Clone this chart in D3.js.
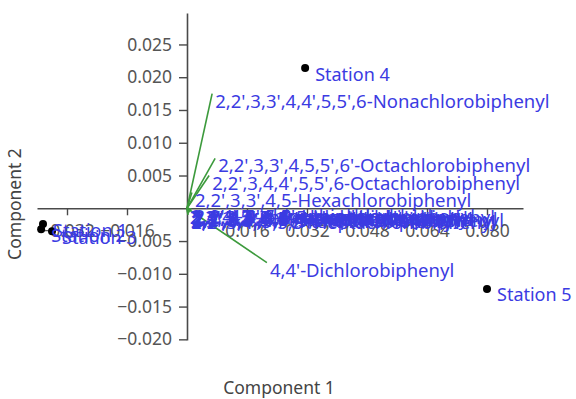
<!DOCTYPE html>
<html>
<head>
<meta charset="utf-8">
<script src="https://cdn.jsdelivr.net/npm/d3@7"></script>
<style>
  html, body { margin: 0; padding: 0; background: #fff; }
  svg { display: block; }
</style>
</head>
<body>
<svg id="chart" width="576" height="399"></svg>
<script>
// PCA biplot: station scores (points) and congener loadings (vectors)
const stationNames = ["Station 1", "Station 3", "Station 2", "Station 4", "Station 5"];
const stationPC1   = [-0.0384, -0.0360, -0.0389, 0.0315, 0.0800];
const stationPC2   = [-0.0024, -0.0035, -0.0032, 0.0214, -0.0123];

const loadingNames = [
  "2,4,4'-Trichlorobiphenyl",
  "2,2',5,5'-Tetrachlorobiphenyl",
  "2,2',4,5,5'-Pentachlorobiphenyl",
  "2,3',4,4',5-Pentachlorobiphenyl",
  "2,2',3,4,4',5'-Hexachlorobiphenyl",
  "2,2',4,4',5,5'-Hexachlorobiphenyl",
  "2,3,3',4,4',5-Hexachlorobiphenyl",
  "2,2',3,4,4',5,5'-Heptachlorobiphenyl",
  "2,2',3,4',5,5',6-Heptachlorobiphenyl",
  "2,2',3,3',4,4',5-Heptachlorobiphenyl",
  "2,2',3,3',4,4',5,5'-Octachlorobiphenyl",
  "2,2',3,3',4,5-Hexachlorobiphenyl",
  "2,2',3,4,4',5,5',6-Octachlorobiphenyl",
  "2,2',3,3',4,5,5',6'-Octachlorobiphenyl",
  "2,2',3,3',4,4',5,5',6-Nonachlorobiphenyl",
  "4,4'-Dichlorobiphenyl"
];
const loadingPC1 = [0.0003, -0.0001, 0.0009, 0.0002, 0.0006, 0.0012, 0.0004, 0.0003, 0.0008, 0.0001, 0.0005, 0.0013, 0.0059, 0.0075, 0.0067, 0.0213];
const loadingPC2 = [-0.0001, -0.0002, -0.0003, -0.0009, -0.0006, -0.0001, -0.0004, -0.0010, -0.0005, -0.0002, -0.0007, 0.0024, 0.0050, 0.0076, 0.0175, -0.0083];

const xTicks = [-0.032, -0.016, 0.016, 0.032, 0.048, 0.064, 0.080];
const yTicks = [-0.020, -0.015, -0.010, -0.005, 0.005, 0.010, 0.015, 0.020, 0.025];

const svg = d3.select("#chart");
const x = d3.scaleLinear().domain([-0.04, 0.0896]).range([37, 523]);
const y = d3.scaleLinear().domain([-0.0201, 0.0298]).range([340, 13]);

const axisColor = "#4a4a4a";
const textBlue = "#3b3be2";
const lineGreen = "#3c9a3c";
const fontFamily = "'Noto Sans', sans-serif";
const labelSize = 18.5;

// Axes crossing at the origin
const xAxis = svg.append("g")
  .attr("transform", `translate(0,${y(0)})`)
  .call(d3.axisBottom(x).tickValues(xTicks).tickFormat(d3.format(".3f"))
    .tickSize(7).tickSizeOuter(0).tickPadding(9));
const yAxis = svg.append("g")
  .attr("transform", `translate(${x(0)},0)`)
  .call(d3.axisLeft(y).tickValues(yTicks).tickFormat(d3.format(".3f"))
    .tickSize(8).tickSizeOuter(0).tickPadding(7));

[xAxis, yAxis].forEach(g => {
  g.select(".domain").attr("stroke", axisColor).attr("stroke-width", 1.6);
  g.selectAll(".tick line").attr("stroke", axisColor).attr("stroke-width", 1.4);
  g.selectAll(".tick text").attr("fill", "#555").attr("font-size", 17.5)
    .attr("font-family", fontFamily);
});

const loadings = loadingNames.map((n, i) => ({ n, a: loadingPC1[i], b: loadingPC2[i] }));

// Loading vectors
svg.append("g").selectAll("line")
  .data(loadings)
  .join("line")
  .attr("x1", x(0)).attr("y1", y(0))
  .attr("x2", d => x(d.a)).attr("y2", d => y(d.b))
  .attr("stroke", lineGreen).attr("stroke-width", 1.6);

svg.append("g").selectAll("text")
  .data(loadings)
  .join("text")
  .attr("x", d => x(d.a) + 3).attr("y", d => y(d.b) + 14)
  .attr("fill", textBlue).attr("font-size", labelSize).attr("font-family", fontFamily)
  .text(d => d.n);

// Station scores
const stations = stationNames.map((n, i) => ({ n, a: stationPC1[i], b: stationPC2[i] }));
svg.append("g").selectAll("circle")
  .data(stations).join("circle")
  .attr("cx", d => x(d.a)).attr("cy", d => y(d.b)).attr("r", 4)
  .attr("fill", "#000");
svg.append("g").selectAll("text")
  .data(stations).join("text")
  .attr("x", d => x(d.a) + 10).attr("y", d => y(d.b) + 12.5)
  .attr("fill", textBlue).attr("font-size", 18).attr("font-family", fontFamily)
  .text(d => d.n);

// Axis titles
svg.append("text")
  .attr("x", 279).attr("y", 394).attr("text-anchor", "middle")
  .attr("fill", "#444").attr("font-size", 17.5).attr("font-family", fontFamily)
  .text("Component 1");
svg.append("text")
  .attr("transform", "translate(21,204) rotate(-90)").attr("text-anchor", "middle")
  .attr("fill", "#444").attr("font-size", 17.5).attr("font-family", fontFamily)
  .text("Component 2");
</script>
</body>
</html>
